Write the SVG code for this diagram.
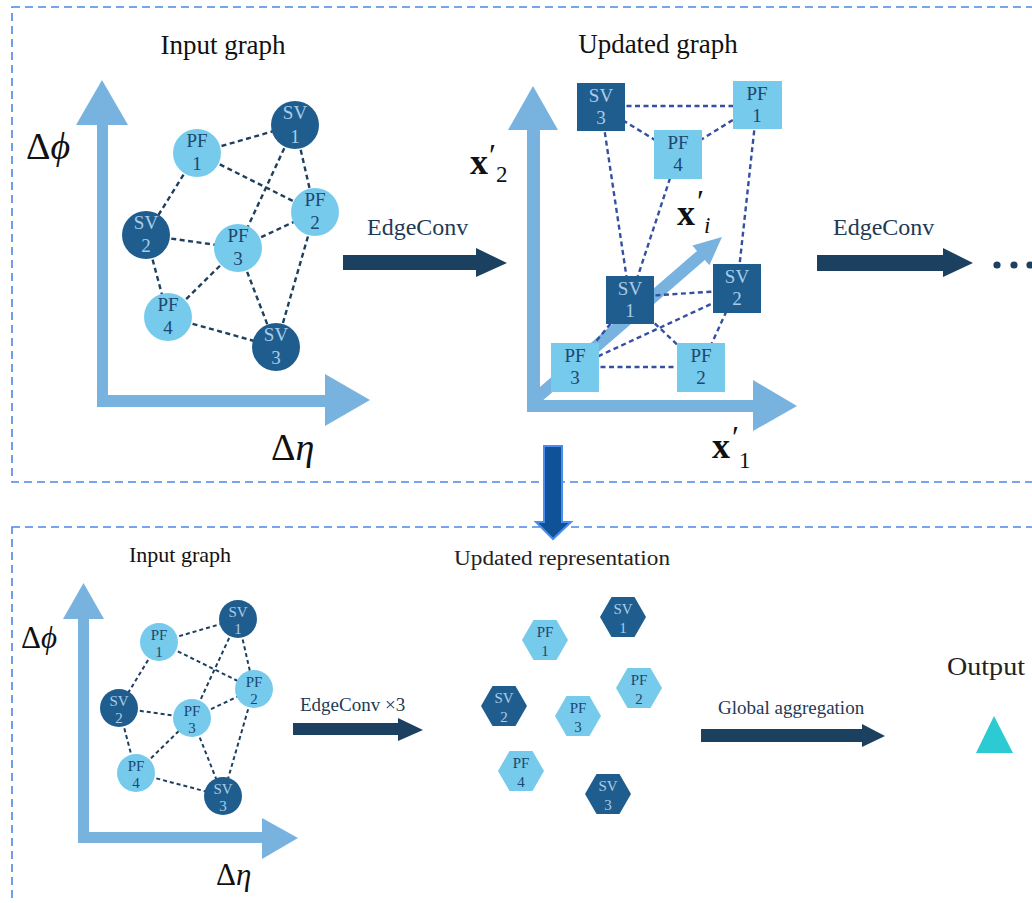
<svg xmlns="http://www.w3.org/2000/svg" xmlns:xlink="http://www.w3.org/1999/xlink" width="1032" height="903" viewBox="0 0 1032 903">
<style>
.box{fill:none;stroke:#4a86e8;stroke-width:1.6;stroke-dasharray:8 5}
.axis{fill:#78b3e0}
.big{fill:#1b4060}
.dk{fill:#1f5d8e}
.lt{fill:#76cbec}
.e1{stroke:#1f3f5f;stroke-width:2.4;stroke-dasharray:5 3.5;fill:none}
.e2{stroke:#3550a0;stroke-width:2.4;stroke-dasharray:5 3.5;fill:none}
.e3{stroke:#1f3f5f;stroke-width:2;stroke-dasharray:4 3;fill:none}
.t{font-family:"Liberation Serif","Times New Roman",serif;text-anchor:middle}
.tdk{fill:#a9cde8;font-family:"Liberation Serif","Times New Roman",serif;text-anchor:middle}
.tlt{fill:#1e4670;font-family:"Liberation Serif","Times New Roman",serif;text-anchor:middle}
.title{font-family:"Liberation Serif","Times New Roman",serif;fill:#111}
.lbl{font-family:"Liberation Serif","Times New Roman",serif;fill:#1e3a55}
.math{font-family:"Liberation Serif","DejaVu Serif",serif;fill:#111}
.cam{font-family:"Liberation Serif","DejaVu Serif",serif;fill:#222}
</style>
<defs>
<polygon id="hex" points="-23,0 -11.5,-20 11.5,-20 23,0 11.5,20 -11.5,20"/>
</defs>

<!-- panel boxes -->
<rect class="box" x="12" y="7" width="1040" height="475"/>
<rect class="box" x="12" y="527" width="1040" height="400"/>

<!-- top-left axes -->
<g id="axes-top-left" class="axis">
<rect x="97" y="124" width="11" height="283"/>
<polygon points="76,125 128,125 102,80"/>
<rect x="97" y="395" width="229" height="12"/>
<polygon points="325,374 325,426 370,400"/>
</g>
<text class="title" x="223" y="54" font-size="27" text-anchor="middle">Input graph</text>
<text class="math" x="26" y="159" font-size="38">Δ<tspan font-style="italic">ϕ</tspan></text>
<text class="math" x="271" y="460" font-size="38">Δ<tspan font-style="italic">η</tspan></text>

<!-- top-right axes -->
<g id="axes-top-right" class="axis">
<rect x="527" y="129" width="13" height="283"/>
<polygon points="508,130 558,130 533,86"/>
<rect x="527" y="400" width="227" height="12"/>
<polygon points="753,380 753,431 797,406"/>
</g>
<!-- x'_i vector -->
<g id="xi-vector" class="axis">
<polygon points="537,405.5 704.8,259.9 709.4,265.2 722,237 692.4,245.6 697,250.9 529,396.5"/>
</g>
<text class="title" x="658" y="53" font-size="27" text-anchor="middle">Updated graph</text>

<text class="math" x="470" y="174"><tspan font-size="36" font-weight="bold">x</tspan><tspan font-size="32" dx="1" dy="-8">′</tspan><tspan font-size="23" dx="0" dy="16">2</tspan></text>
<text class="math" x="677" y="225"><tspan font-size="36" font-weight="bold">x</tspan><tspan font-size="32" dx="2" dy="-13">′</tspan><tspan font-size="23" font-style="italic" dx="0" dy="21">i</tspan></text>
<text class="math" x="712" y="458"><tspan font-size="36" font-weight="bold">x</tspan><tspan font-size="32" dx="2" dy="-10">′</tspan><tspan font-size="23" dx="0" dy="20">1</tspan></text>

<!-- bottom-left axes -->
<g id="axes-bottom-left" class="axis">
<rect x="78" y="618" width="11" height="225"/>
<polygon points="63,619 104,619 83.5,583"/>
<rect x="78" y="832" width="185" height="11"/>
<polygon points="262,818 262,859 298,838"/>
</g>
<text class="title" x="180" y="562" font-size="22" text-anchor="middle">Input graph</text>
<text class="math" x="21" y="648" font-size="31">Δ<tspan font-style="italic">ϕ</tspan></text>
<text class="math" x="216" y="885" font-size="31">Δ<tspan font-style="italic">η</tspan></text>

<!-- connectors -->
<g id="connectors">
<!-- top input graph -->
<g class="e1">
<line x1="197" y1="153" x2="295" y2="125"/>
<line x1="197" y1="153" x2="315" y2="212"/>
<line x1="197" y1="153" x2="146" y2="235"/>
<line x1="295" y1="125" x2="238" y2="248"/>
<line x1="295" y1="125" x2="315" y2="212"/>
<line x1="146" y1="235" x2="238" y2="248"/>
<line x1="238" y1="248" x2="315" y2="212"/>
<line x1="146" y1="235" x2="168" y2="317"/>
<line x1="168" y1="317" x2="238" y2="248"/>
<line x1="238" y1="248" x2="276" y2="347"/>
<line x1="315" y1="212" x2="276" y2="347"/>
<line x1="168" y1="317" x2="276" y2="347"/>
</g>
<!-- updated graph -->
<g class="e2">
<line x1="601" y1="106" x2="757" y2="106"/>
<line x1="601" y1="107" x2="678" y2="154"/>
<line x1="678" y1="154" x2="757" y2="105"/>
<line x1="601" y1="107" x2="630" y2="300"/>
<line x1="678" y1="154" x2="630" y2="300"/>
<line x1="757" y1="105" x2="737" y2="288"/>
<line x1="630" y1="297" x2="737" y2="290"/>
<line x1="575" y1="367" x2="737" y2="292"/>
<line x1="630" y1="300" x2="701" y2="367"/>
<line x1="737" y1="288" x2="701" y2="367"/>
<line x1="575" y1="367" x2="701" y2="367"/>
<line x1="575" y1="367" x2="630" y2="300"/>
</g>
<!-- bottom input graph -->
<g class="e3">
<line x1="159" y1="642" x2="238" y2="619"/>
<line x1="159" y1="642" x2="254" y2="689"/>
<line x1="159" y1="642" x2="119" y2="708"/>
<line x1="238" y1="619" x2="192" y2="718"/>
<line x1="238" y1="619" x2="254" y2="689"/>
<line x1="119" y1="708" x2="192" y2="718"/>
<line x1="192" y1="718" x2="254" y2="689"/>
<line x1="119" y1="708" x2="136" y2="773"/>
<line x1="136" y1="773" x2="192" y2="718"/>
<line x1="192" y1="718" x2="223" y2="796"/>
<line x1="254" y1="689" x2="223" y2="796"/>
<line x1="136" y1="773" x2="223" y2="796"/>
</g>
<!-- process arrows -->
<g class="big">
<polygon id="arrow-edgeconv-1" points="343,255 476,255 476,248 507,263 476,277 476,270 343,270"/>
<polygon id="arrow-edgeconv-2" points="817,255 943,255 943,248 973,263 943,277 943,271 817,271"/>
<polygon id="arrow-edgeconv-3" points="293,723 398,723 398,718 423,730 398,741 398,735 293,735"/>
<polygon id="arrow-global" points="701,729 862,729 862,724 885,736 862,747 862,742 701,742"/>
</g>
<polygon id="arrow-down" points="544,446 562,446 562,522 571,522 553,539 536,522 544,522" fill="#0f5298" stroke="#4a8cf0" stroke-width="2"/>
<g fill="#1b4060">
<circle cx="997" cy="265" r="3.6"/>
<circle cx="1014" cy="265" r="3.6"/>
<circle cx="1030" cy="265" r="3.6"/>
</g>
</g>

<text class="lbl" x="367" y="235" font-size="24">EdgeConv</text>
<text class="lbl" x="833" y="235" font-size="24">EdgeConv</text>
<text class="lbl" x="300" y="711" font-size="19">EdgeConv ×3</text>
<text class="lbl" x="718" y="714" font-size="19">Global aggregation</text>
<text class="cam" x="454" y="565" font-size="20" textLength="216" lengthAdjust="spacingAndGlyphs">Updated representation</text>
<text class="cam" x="947" y="675" font-size="26" textLength="78" lengthAdjust="spacingAndGlyphs">Output</text>
<polygon id="output-triangle" points="994,716 1013,753 976,753" fill="#2ccbd3"/>

<!-- top input graph nodes -->
<g class="t" font-size="19">
<g id="t-sv1"><circle class="dk" cx="295" cy="125" r="24"/><text class="tdk" x="295" y="119">SV</text><text class="tdk" x="295" y="143">1</text></g>
<g id="t-pf1"><circle class="lt" cx="197" cy="153" r="24"/><text class="tlt" x="197" y="147">PF</text><text class="tlt" x="197" y="170">1</text></g>
<g id="t-pf2"><circle class="lt" cx="315" cy="212" r="24"/><text class="tlt" x="315" y="206">PF</text><text class="tlt" x="315" y="229">2</text></g>
<g id="t-sv2"><circle class="dk" cx="146" cy="235" r="24"/><text class="tdk" x="146" y="229">SV</text><text class="tdk" x="146" y="252">2</text></g>
<g id="t-pf3"><circle class="lt" cx="238" cy="248" r="24"/><text class="tlt" x="238" y="242">PF</text><text class="tlt" x="238" y="265">3</text></g>
<g id="t-pf4"><circle class="lt" cx="168" cy="317" r="24"/><text class="tlt" x="168" y="311">PF</text><text class="tlt" x="168" y="334">4</text></g>
<g id="t-sv3"><circle class="dk" cx="276" cy="347" r="24"/><text class="tdk" x="276" y="341">SV</text><text class="tdk" x="276" y="364">3</text></g>
</g>

<!-- updated graph nodes -->
<g class="t" font-size="19">
<g id="u-sv3"><rect class="dk" x="577" y="83" width="48" height="48"/><text class="tdk" x="601" y="102">SV</text><text class="tdk" x="601" y="124">3</text></g>
<g id="u-pf1"><rect class="lt" x="733" y="81" width="49" height="48"/><text class="tlt" x="757" y="100">PF</text><text class="tlt" x="757" y="122">1</text></g>
<g id="u-pf4"><rect class="lt" x="654" y="130" width="48" height="49"/><text class="tlt" x="678" y="149">PF</text><text class="tlt" x="678" y="171">4</text></g>
<g id="u-sv1"><rect class="dk" x="606" y="276" width="48" height="48"/><text class="tdk" x="630" y="295">SV</text><text class="tdk" x="630" y="317">1</text></g>
<g id="u-sv2"><rect class="dk" x="713" y="264" width="48" height="49"/><text class="tdk" x="737" y="283">SV</text><text class="tdk" x="737" y="305">2</text></g>
<g id="u-pf3"><rect class="lt" x="551" y="343" width="48" height="49"/><text class="tlt" x="575" y="362">PF</text><text class="tlt" x="575" y="384">3</text></g>
<g id="u-pf2"><rect class="lt" x="677" y="343" width="48" height="49"/><text class="tlt" x="701" y="362">PF</text><text class="tlt" x="701" y="384">2</text></g>
</g>

<!-- bottom input graph nodes -->
<g class="t" font-size="15">
<g id="b-pf1"><circle class="lt" cx="159" cy="642" r="19"/><text class="tlt" x="159" y="640">PF</text><text class="tlt" x="159" y="657">1</text></g>
<g id="b-sv1"><circle class="dk" cx="238" cy="619" r="19"/><text class="tdk" x="238" y="617">SV</text><text class="tdk" x="238" y="634">1</text></g>
<g id="b-pf2"><circle class="lt" cx="254" cy="689" r="19"/><text class="tlt" x="254" y="687">PF</text><text class="tlt" x="254" y="704">2</text></g>
<g id="b-sv2"><circle class="dk" cx="119" cy="708" r="19"/><text class="tdk" x="119" y="706">SV</text><text class="tdk" x="119" y="723">2</text></g>
<g id="b-pf3"><circle class="lt" cx="192" cy="718" r="19"/><text class="tlt" x="192" y="716">PF</text><text class="tlt" x="192" y="733">3</text></g>
<g id="b-pf4"><circle class="lt" cx="136" cy="773" r="19"/><text class="tlt" x="136" y="771">PF</text><text class="tlt" x="136" y="788">4</text></g>
<g id="b-sv3"><circle class="dk" cx="223" cy="796" r="19"/><text class="tdk" x="223" y="794">SV</text><text class="tdk" x="223" y="811">3</text></g>
</g>

<!-- updated representation nodes -->
<g class="t" font-size="15">
<g id="h-sv1"><use href="#hex" x="623" y="617" class="dk"/><text class="tdk" x="623" y="614">SV</text><text class="tdk" x="623" y="633">1</text></g>
<g id="h-pf1"><use href="#hex" x="545" y="640" class="lt"/><text class="tlt" x="545" y="637">PF</text><text class="tlt" x="545" y="656">1</text></g>
<g id="h-pf2"><use href="#hex" x="639" y="688" class="lt"/><text class="tlt" x="639" y="685">PF</text><text class="tlt" x="639" y="704">2</text></g>
<g id="h-sv2"><use href="#hex" x="504" y="706" class="dk"/><text class="tdk" x="504" y="703">SV</text><text class="tdk" x="504" y="722">2</text></g>
<g id="h-pf3"><use href="#hex" x="578" y="716" class="lt"/><text class="tlt" x="578" y="713">PF</text><text class="tlt" x="578" y="732">3</text></g>
<g id="h-pf4"><use href="#hex" x="521" y="771" class="lt"/><text class="tlt" x="521" y="768">PF</text><text class="tlt" x="521" y="787">4</text></g>
<g id="h-sv3"><use href="#hex" x="608" y="794" class="dk"/><text class="tdk" x="608" y="791">SV</text><text class="tdk" x="608" y="810">3</text></g>
</g>
</svg>
